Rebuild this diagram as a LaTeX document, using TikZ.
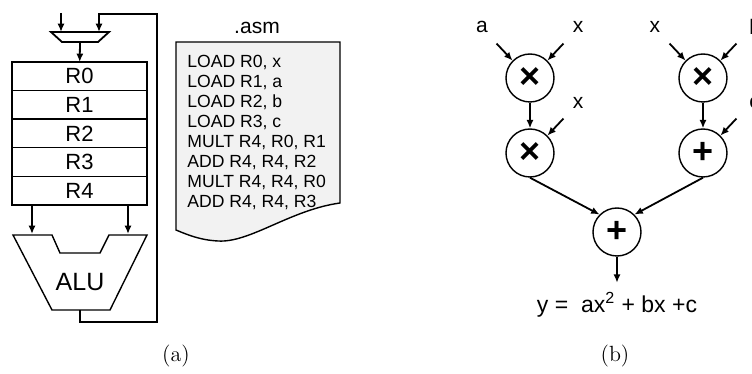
\documentclass[tikz,border=0pt]{standalone}
\usepackage{fontspec}
\usepackage{tikz}
\usetikzlibrary{positioning,calc,arrows.meta}
\newfontfamily\arialfont{Liberation Sans}
\definecolor{docgray}{RGB}{242,242,242}

\tikzset{
	wire/.style={line width=0.9pt},
	arr/.style={wire, -{Latex[length=4.2pt,width=3.6pt]}},
	reg/.style={draw, line width=0.7pt, outer sep=0pt, inner sep=0pt, minimum width=67.5pt, minimum height=14.3pt, font=\arialfont\fontsize{11}{12}\selectfont},
	op/.style={draw, circle, line width=0.7pt, minimum size=24pt, inner sep=0pt, font=\arialfont\bfseries\fontsize{18}{18}\selectfont},
	var/.style={inner sep=0pt, font=\arialfont\fontsize{10.5}{12}\selectfont},
	code/.style={inner sep=0pt, align=left, font=\arialfont\fontsize{8.8}{10}\selectfont},
	caption/.style={inner sep=0pt, font=\fontsize{11}{13}\selectfont}
}

\begin{document}
\begin{tikzpicture}[x=0.5pt, y=-0.5pt]
	\useasboundingbox (0,0) rectangle (752,374);
	% (a) register machine
	\node[reg] (r0) at (79.5,76.3) {R0};
	\node[reg, below=0pt of r0] (r1) {R1};
	\node[reg, below=0pt of r1] (r2) {R2};
	\node[reg, below=0pt of r2] (r3) {R3};
	\node[reg, below=0pt of r3] (r4) {R4};
	\draw [wire] (51,32) -- (109,32) -- (98,42) -- (62,42) -- cycle;
	\coordinate (muxin) at (61,13);
	\coordinate (muxl) at (61,32);
	\coordinate (muxr) at (99,32);
	\coordinate (muxout) at (80,42);
	\draw [arr] (muxin) -- (muxl);
	\draw [arr] (muxout) -- (r0);
	\draw [line width=0.7pt] (13,235) -- (52,235) -- (60,253) -- (100,253) -- (109,235) -- (147,235) -- (110,310) -- (52,310) -- cycle;
	\node[var, font=\arialfont\fontsize{12.5}{14}\selectfont] (alu) at (80,282) {ALU};
	\coordinate (alua) at (32,234);
	\coordinate (alub) at (128,234);
	\coordinate (aluout) at (80,310);
	\draw [arr] (r4.south -| alua) -- (alua);
	\draw [arr] (r4.south -| alub) -- (alub);
	\draw [arr] (aluout) |- (157,322) |- (99,14) -- (muxr);
	% program listing
	\node[var] (asm) at (257,28) {.asm};
	\draw [line width=0.7pt, fill=docgray] (176,42) -- (340,42) -- (340,203) .. controls (290,210) and (250,243) .. (218,241) .. controls (200,240) and (188,235) .. (176,230) -- cycle;
	\node[code, anchor=north west] (listing) at (187,55) {LOAD R0, x\\LOAD R1, a\\LOAD R2, b\\LOAD R3, c\\MULT R4, R0, R1\\ADD R4, R4, R2\\MULT R4, R4, R0\\ADD R4, R4, R3};
	\node[caption] (capa) at (176,356) {(a)};
	% (b) data flow graph
	\node[op] (ax) at (530,78) {×};
	\node[op] (axx) at (530,153) {×};
	\node[op] (bx) at (703,78) {×};
	\node[op] (bxc) at (703,153) {+};
	\node[op] (sum) at (617,232) {+};
	\node[var] (la) at (482,27) {a};
	\node[var] (lx1) at (578,27) {x};
	\node[var] (lx2) at (578,103) {x};
	\node[var] (lx3) at (655,27) {x};
	\node[var, anchor=west] (lb) at (749,27) {b};
	\node[var, anchor=west] (lc) at (749,103) {c};
	\draw [arr] ($(ax.135)+(-16,-17)$) -- (ax.135);
	\draw [arr] ($(ax.45)+(16,-17)$) -- (ax.45);
	\draw [arr] ($(axx.45)+(16,-17)$) -- (axx.45);
	\draw [arr] ($(bx.135)+(-16,-17)$) -- (bx.135);
	\draw [arr] ($(bx.45)+(16,-17)$) -- (bx.45);
	\draw [arr] ($(bxc.45)+(16,-17)$) -- (bxc.45);
	\draw [arr] (ax) -- (axx);
	\draw [arr] (bx) -- (bxc);
	\draw [arr] (axx.south) -- (sum.135);
	\draw [arr] (bxc.south) -- (sum.45);
	\draw [arr] (sum.south) -- ++(0,26);
	\node[var, font=\arialfont\fontsize{11.5}{13}\selectfont] (result) at (617,305) {y = \ ax\textsuperscript{2} + bx +c};
	\node[caption] (capb) at (615,356) {(b)};
\end{tikzpicture}
\end{document}
